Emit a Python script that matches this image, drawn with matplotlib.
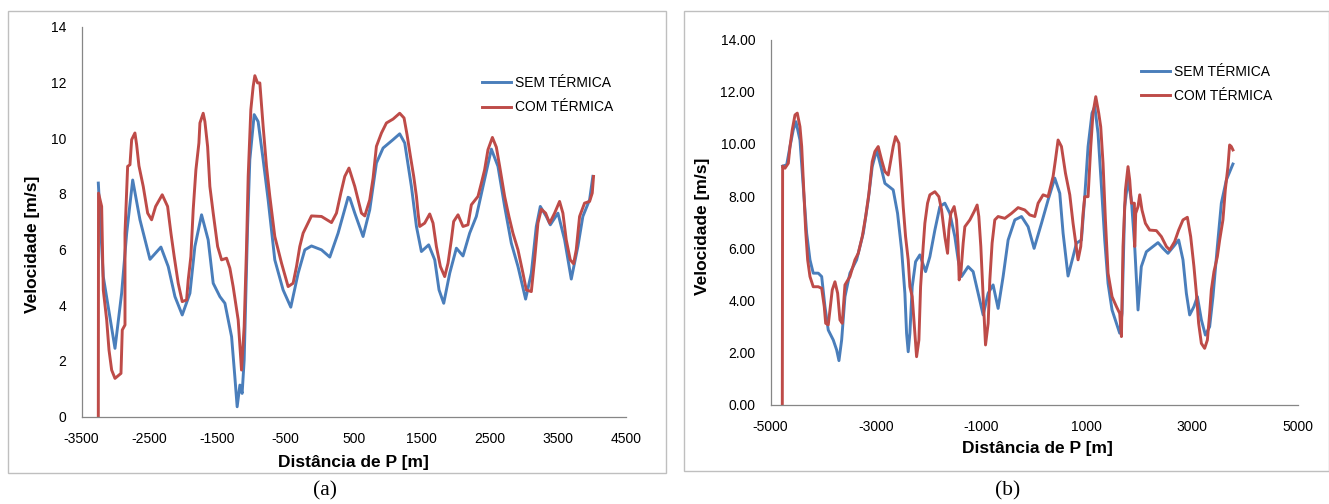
import matplotlib
matplotlib.use("Agg")
import matplotlib.pyplot as plt
from matplotlib.patches import Rectangle

# ---------------- data: panel (a) ----------------
a_sem_x = [-3253, -3180, -3008, -2910, -2836, -2748, -2641, -2494, -2333, -2226, -2127, -2020,
           -1907, -1834, -1736, -1639, -1565, -1467, -1393, -1295, -1247, -1213, -1173, -1140,
           -1110, -1060, -1027, -963, -905, -831, -758, -660, -538, -425, -317, -219, -121, 26,
           148, 270, 417, 442, 515, 637, 735, 833, 931, 1077, 1175, 1249, 1347, 1421, 1494,
           1601, 1690, 1753, 1822, 1910, 2008, 2105, 2203, 2301, 2399, 2522, 2619, 2717, 2815,
           2913, 3025, 3109, 3182, 3241, 3329, 3388, 3500, 3598, 3696, 3793, 3866, 3965, 4013]
a_sem_y = [8.39, 5.03, 2.45, 4.44, 6.59, 8.5, 7.07, 5.65, 6.09, 5.39, 4.31, 3.65,
           4.43, 6.11, 7.25, 6.35, 4.79, 4.31, 4.07, 2.87, 1.43, 0.35, 1.13, 0.83,
           2.03, 6.83, 9.23, 10.85, 10.6, 9.23, 7.79, 5.63, 4.55, 3.93, 5.15, 5.99, 6.13, 5.99,
           5.73, 6.59, 7.88, 7.85, 7.31, 6.47, 7.43, 9.11, 9.65, 9.95, 10.16, 9.83, 8.27, 6.83, 5.93,
           6.17, 5.63, 4.55, 4.07, 5.15, 6.05, 5.77, 6.59, 7.19, 8.27, 9.61, 8.99, 7.55, 6.23,
           5.39, 4.22, 5.15, 6.83, 7.55, 7.19, 6.89, 7.31, 6.35, 4.94, 6.11, 7.19, 7.79, 8.63]

a_com_x = [-3253, -3250, -3204, -3180, -3130, -3096, -3057, -3008, -2920, -2901, -2861, -2861,
           -2822, -2788, -2763, -2715, -2690, -2656, -2593, -2528, -2470, -2411, -2314, -2235,
           -2186, -2138, -2079, -2020, -1956, -1932, -1893, -1859, -1819, -1775, -1760, -1712,
           -1687, -1647, -1614, -1565, -1500, -1442, -1369, -1320, -1272, -1198, -1149, -1110,
           -1075, -1051, -1012, -978, -953, -913, -880, -831, -782, -733, -660, -561, -464, -391,
           -341, -293, -244, -121, 26, 173, 246, 310, 368, 430, 515, 564, 613, 662, 735, 784,
           833, 907, 980, 1077, 1175, 1239, 1283, 1333, 1381, 1421, 1445, 1469, 1542, 1616, 1665,
           1714, 1773, 1836, 1885, 1934, 1968, 2032, 2105, 2178, 2228, 2325, 2375, 2423, 2472,
           2537, 2595, 2644, 2717, 2780, 2839, 2913, 2986, 3035, 3109, 3157, 3206, 3256, 3319,
           3378, 3451, 3524, 3573, 3622, 3681, 3730, 3769, 3818, 3891, 3965, 4004, 4023]
a_com_y = [0.0, 8.03, 7.55, 4.55, 3.47, 2.39, 1.67, 1.37, 1.55, 3.11, 3.29, 6.59,
           8.99, 9.05, 9.95, 10.19, 9.77, 9.01, 8.27, 7.31, 7.07, 7.55, 7.97, 7.55,
           6.59, 5.75, 4.79, 4.13, 4.19, 4.91, 5.75, 7.43, 8.87, 9.83, 10.55, 10.9,
           10.6, 9.7, 8.27, 7.31, 6.11, 5.63, 5.69, 5.33, 4.67, 3.47, 1.67, 3.23,
           6.11, 8.63, 11.03, 11.86, 12.25, 11.99, 11.99, 10.42, 8.99, 7.91, 6.47, 5.51, 4.67, 4.79,
           5.39, 6.11, 6.59, 7.21, 7.19, 6.97, 7.31, 8.03, 8.63, 8.93, 8.27, 7.79, 7.31, 7.21, 7.79, 8.57,
           9.71, 10.19, 10.55, 10.69, 10.9, 10.73, 10.13, 9.35, 8.63, 7.91, 7.31, 6.83, 6.95, 7.28, 6.95,
           6.11, 5.39, 5.03, 5.51, 6.35, 7.01, 7.25, 6.83, 6.89, 7.61, 7.91, 8.39, 8.87, 9.59,
           10.03, 9.68, 8.99, 7.91, 7.19, 6.59, 5.99, 5.15, 4.55, 4.49, 5.63, 6.95, 7.45, 7.31,
           6.95, 7.31, 7.73, 7.31, 6.35, 5.63, 5.49, 5.99, 7.19, 7.67, 7.73, 8.03, 8.63]

# ---------------- data: panel (b) ----------------
b_sem_x = [-4770, -4693, -4630, -4568, -4517, -4441, -4378, -4314, -4251, -4189, -4094, -4029,
           -3967, -3904, -3809, -3745, -3701, -3650, -3587, -3493, -3366, -3240, -3146, -3070,
           -2986, -2905, -2829, -2734, -2672, -2589, -2512, -2450, -2418, -2387, -2355, -2311,
           -2247, -2166, -2057, -1976, -1881, -1786, -1692, -1597, -1502, -1439, -1375, -1250,
           -1155, -1060, -965, -870, -776, -681, -586, -491, -364, -237, -112, 2, 142, 267, 394,
           489, 552, 646, 741, 806, 900, 963, 1026, 1101, 1153, 1215, 1280, 1342, 1405, 1481,
           1564, 1626, 1670, 1721, 1784, 1848, 1911, 1974, 2036, 2132, 2258, 2353, 2448, 2542,
           2656, 2745, 2827, 2891, 2954, 3035, 3100, 3176, 3252, 3333, 3396, 3479, 3555, 3650, 3775]
b_sem_y = [9.15, 9.2, 9.9, 10.54, 10.85, 10.15, 8.36, 6.58, 5.56, 5.05, 5.05, 4.92,
           3.77, 2.87, 2.49, 2.11, 1.70, 2.49, 4.15, 5.05, 5.56, 6.58, 7.85, 9.13,
           9.77, 9.13, 8.49, 8.34, 8.24, 7.34, 5.94, 4.28, 2.75, 2.04, 2.75, 4.53,
           5.49, 5.75, 5.11, 5.68, 6.70, 7.6, 7.73, 7.34, 6.45, 5.56, 4.92, 5.30,
           5.11, 4.28, 3.45, 4.28, 4.60, 3.70, 4.92, 6.32, 7.09, 7.22, 6.83, 6.0, 6.96, 7.85, 8.69,
           8.11, 6.58, 4.94, 5.68, 6.20, 6.32, 7.98, 9.90, 11.18, 11.43, 10.41, 8.36, 6.32, 4.66, 3.64,
           3.13, 2.75, 3.51, 7.60, 8.62, 7.85, 6.07, 3.64, 5.30, 5.87, 6.07, 6.22, 6.0, 5.81,
           6.09, 6.32, 5.56, 4.28, 3.45, 3.77, 4.15, 3.26, 2.68, 3.0, 4.15, 6.07, 7.73, 8.62, 9.23]

b_com_x = [-4776, -4770, -4725, -4662, -4630, -4587, -4535, -4492, -4441, -4408, -4378, -4333,
           -4295, -4251, -4189, -4094, -4029, -3980, -3953, -3904, -3872, -3828, -3777, -3726,
           -3682, -3639, -3587, -3493, -3398, -3335, -3259, -3195, -3132, -3070, -3019, -2956,
           -2892, -2829, -2766, -2715, -2672, -2627, -2564, -2526, -2482, -2437, -2387, -2355,
           -2311, -2260, -2228, -2184, -2152, -2103, -2071, -2020, -1976, -1881, -1805, -1754,
           -1692, -1640, -1616, -1578, -1515, -1470, -1439, -1420, -1388, -1344, -1312, -1217,
           -1136, -1079, -1047, -1009, -965, -920, -870, -838, -795, -744, -681, -554, -427, -302,
           -175, -80, 15, 78, 173, 267, 362, 407, 457, 521, 597, 679, 741, 792, 836, 887, 931,
           963, 1026, 1077, 1120, 1172, 1228, 1266, 1310, 1355, 1405, 1481, 1564, 1626, 1659,
           1689, 1735, 1784, 1816, 1848, 1905, 1911, 1930, 1974, 2006, 2049, 2114, 2195, 2322,
           2417, 2512, 2575, 2669, 2745, 2827, 2910, 2973, 3035, 3081, 3124, 3176, 3238, 3290,
           3333, 3365, 3415, 3479, 3523, 3585, 3630, 3680, 3712, 3744, 3775]
b_com_y = [0.0, 9.15, 9.07, 9.26, 9.9, 10.54, 11.11, 11.18, 10.66, 9.90, 8.62, 6.70,
           5.56, 4.92, 4.53, 4.53, 4.47, 3.77, 3.13, 3.07, 3.64, 4.41, 4.72, 4.28,
           3.26, 3.13, 4.60, 4.92, 5.56, 5.81, 6.45, 7.21, 8.11, 9.32, 9.71, 9.90,
           9.39, 8.94, 8.81, 9.39, 9.90, 10.28, 10.03, 9.0, 7.60, 6.45, 5.56, 4.53,
           4.15, 2.75, 1.85, 2.49, 4.53, 6.07, 6.96, 7.73, 8.05, 8.17, 7.98, 7.47,
           6.45, 5.81, 6.70, 7.34, 7.60, 7.09, 6.07, 4.79, 5.05, 6.20, 6.83, 7.09,
           7.41, 7.66, 7.22, 6.07, 4.15, 2.30, 3.13, 4.79, 6.20, 7.09, 7.22, 7.15, 7.34, 7.56,
           7.47, 7.28, 7.22, 7.73, 8.05, 7.98, 8.75, 9.39, 10.15, 9.90, 8.88, 8.05, 6.96, 6.20, 5.56, 6.07, 7.34,
           7.98, 7.98, 9.90, 11.18, 11.81, 11.18, 10.66, 9.26, 7.09, 5.05, 4.15, 3.77, 3.51, 2.62,
           6.07, 8.24, 9.13, 8.62, 7.73, 7.73, 6.07, 7.34, 7.60, 8.05, 7.47, 6.96, 6.70, 6.68,
           6.45, 6.07, 5.94, 6.26, 6.70, 7.09, 7.19, 6.45, 5.30, 4.28, 3.13, 2.36, 2.17, 2.49,
           3.51, 4.41, 5.11, 5.68, 6.32, 7.09, 8.24, 9.13, 9.96, 9.90, 9.77]

series_labels = ["SEM TÉRMICA", "COM TÉRMICA"]
a_xticks = [-3500, -2500, -1500, -500, 500, 1500, 2500, 3500, 4500]
a_yticks = [0, 2, 4, 6, 8, 10, 12, 14]
b_xticks = [-5000, -3000, -1000, 1000, 3000, 5000]
b_yticks = [0, 2, 4, 6, 8, 10, 12, 14]
x_title = "Distância de P [m]"
y_title = "Velocidade [m/s]"
captions = ["(a)", "(b)"]

# ---------------- styling / layout ----------------
W, H = 1329, 504
BLUE = "#4A7EBB"
RED = "#BE4B48"
SPINE = "#868686"
BOX = "#BFBFBF"
SANS = ["Liberation Sans", "DejaVu Sans"]
SERIF = ["Liberation Serif", "DejaVu Serif"]

plt.rcParams["font.family"] = SANS

fig = plt.figure(figsize=(W / 100, H / 100), dpi=100)


def fx(px):
    return px / W


def fy(py):
    return 1 - py / H


def rect(x0, y0, x1, y1):
    return [fx(x0), fy(y1), fx(x1) - fx(x0), fy(y0) - fy(y1)]


# outer chart boxes
for (x0, y0, x1, y1) in [(7.5, 10.7, 666, 472.7), (684, 10.7, 1328.5, 471)]:
    fig.patches.append(Rectangle((fx(x0), fy(y1)), fx(x1) - fx(x0), fy(y0) - fy(y1),
                                 transform=fig.transFigure, fill=False,
                                 edgecolor=BOX, linewidth=1.0))

panels = [
    dict(rect=rect(81.5, 27, 626, 416.5), xlim=(-3500, 4500), xticks=a_xticks, yticks=a_yticks,
         yfmt="{:d}", sem=(a_sem_x, a_sem_y), com=(a_com_x, a_com_y),
         ylab=(32.5, 244), xlab=(353, 462), leg=(482, 76), cap=(325, 491)),
    dict(rect=rect(770.5, 39.5, 1297.5, 405), xlim=(-5000, 5000), xticks=b_xticks, yticks=b_yticks,
         yfmt="{:.2f}", sem=(b_sem_x, b_sem_y), com=(b_com_x, b_com_y),
         ylab=(703, 226), xlab=(1037, 449), leg=(1141, 64.5), cap=(1008, 491)),
]

for p in panels:
    ax = fig.add_axes(p["rect"])
    l1, = ax.plot(p["sem"][0], p["sem"][1], color=BLUE, lw=2.1, solid_joinstyle="round",
                  label=series_labels[0])
    l2, = ax.plot(p["com"][0], p["com"][1], color=RED, lw=2.1, solid_joinstyle="round",
                  label=series_labels[1])
    ax.set_xlim(*p["xlim"])
    ax.set_ylim(0, 14)
    ax.set_xticks(p["xticks"])
    ax.set_xticklabels([str(v) for v in p["xticks"]])
    ax.set_yticks(p["yticks"])
    ax.set_yticklabels([p["yfmt"].format(v) for v in p["yticks"]])
    for s in ["top", "right"]:
        ax.spines[s].set_visible(False)
    for s in ["left", "bottom"]:
        ax.spines[s].set_color(SPINE)
        ax.spines[s].set_linewidth(0.9)
    ax.tick_params(axis="both", length=0, labelsize=10, colors="black")
    ax.tick_params(axis="y", pad=11)
    ax.tick_params(axis="x", pad=11)
    ax.patch.set_visible(False)

    fig.text(fx(p["ylab"][0]), fy(p["ylab"][1]), y_title, rotation=90, ha="center", va="center",
             fontsize=12.5, fontweight="bold")
    fig.text(fx(p["xlab"][0]), fy(p["xlab"][1]), x_title, ha="center", va="center",
             fontsize=12.5, fontweight="bold")
    fig.legend(handles=[l1, l2], loc="upper left",
               bbox_to_anchor=(fx(p["leg"][0]), fy(p["leg"][1])), bbox_transform=fig.transFigure,
               frameon=False, fontsize=10, handlelength=2.1, handletextpad=0.3,
               labelspacing=0.75, borderpad=0, borderaxespad=0)

for p, c in zip(panels, captions):
    fig.text(fx(p["cap"][0]), fy(p["cap"][1]), c, ha="center", va="center",
             fontsize=15.5, family=SERIF)

fig.savefig("out.png", dpi=100)
